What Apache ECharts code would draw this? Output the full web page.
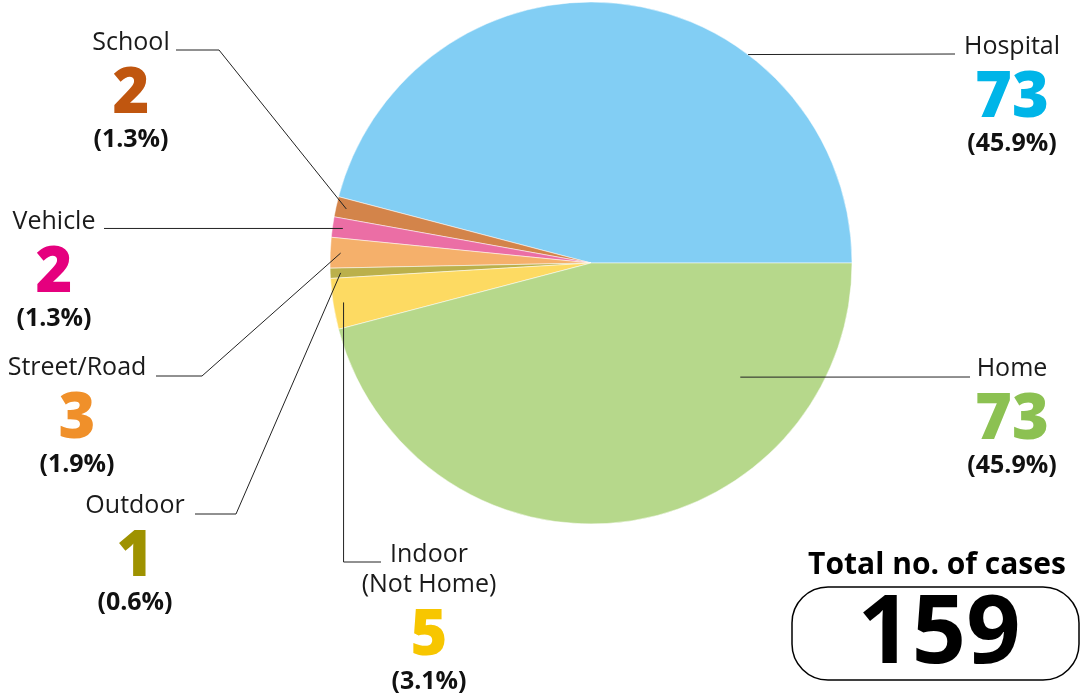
<!DOCTYPE html>
<html>
<head>
<meta charset="utf-8">
<script src="https://cdn.jsdelivr.net/npm/echarts@6/dist/echarts.min.js"></script>
<style>
  html, body { margin: 0; padding: 0; background: #fff; }
  #chart { width: 1081px; height: 696px; }
</style>
</head>
<body>
<div id="chart"></div>
<script>
// data
const places = ['Hospital', 'School', 'Vehicle', 'Street/Road', 'Outdoor', 'Indoor\n(Not Home)', 'Home']
const cases = [73, 2, 2, 3, 1, 5, 73]
const sliceColors = ['#82CEF4', '#D3844A', '#EB6EA5', '#F5B06B', '#BBB04B', '#FDDA62', '#B6D88B']
const numberColors = ['#00B5E8', '#C0560F', '#E5007E', '#F0902A', '#9E9200', '#F7C600', '#8CC152']
const totalLabel = 'Total no. of cases'

const total = cases.reduce((a, b) => a + b, 0)

// pie geometry
const cx = 591, cy = 263, R = 261
const START = 0

// where each label block sits, and how its leader line bends
// x/y = block centre / first text line centre, elbow & end of leader, optional start override
const spots = [
  { x: 1012, y: 47, elbow: [955, 54], end: [955, 54], ang: 53, frac: 1.0 },
  { x: 131, y: 43, elbow: [219, 50], end: [176, 50] },
  { x: 54, y: 222, elbow: [104, null], end: [104, null] },
  { x: 77, y: 368, elbow: [202, 376], end: [156, 376] },
  { x: 135, y: 506, elbow: [236, 514], end: [195, 514] },
  { x: 429, y: 555, elbow: [null, 562], end: [381, 562] },
  { x: 1012, y: 369, elbow: [970, 377], end: [970, 377], ang: -37.4, frac: 0.72 }
]

// mid angle of each slice (counter-clockwise from 3 o'clock)
const midAngles = []
let acc = 0
cases.forEach(v => {
  midAngles.push(START + (acc + v / 2) / total * 360)
  acc += v
})

const rich = {
  n: { fontFamily: 'Open Sans', fontSize: 25, color: '#1a1a1a', lineHeight: 30 },
  p: { fontFamily: 'Open Sans', fontSize: 25, fontWeight: 'bold', color: '#111', lineHeight: 16 }
}
numberColors.forEach((c, i) => {
  rich['v' + i] = { fontFamily: 'Open Sans', fontSize: 63, fontWeight: 800, color: c, lineHeight: 74 }
})

const pieData = places.map((name, i) => ({ name: name, value: cases[i] }))

const chart = echarts.init(document.getElementById('chart'))

chart.setOption({
  animation: false,
  series: [
    // the coloured slices
    {
      type: 'pie',
      center: [cx, cy],
      radius: R,
      startAngle: START,
      clockwise: false,
      z: 2,
      itemStyle: { borderColor: '#fff', borderWidth: 0.5 },
      emphasis: { disabled: true },
      label: { show: false },
      labelLine: { show: false },
      data: pieData.map((d, i) => ({ ...d, itemStyle: { color: sliceColors[i] } }))
    },
    // same data again, invisible slices, so labels and leaders sit on top
    {
      type: 'pie',
      center: [cx, cy],
      radius: R,
      startAngle: START,
      clockwise: false,
      z: 3,
      silent: true,
      avoidLabelOverlap: false,
      itemStyle: { color: 'rgba(0,0,0,0)', borderWidth: 0 },
      emphasis: { disabled: true },
      data: pieData,
      label: {
        show: true,
        position: 'outside',
        rich: rich,
        formatter: p => {
          const pct = (p.value / total * 100).toFixed(1)
          const nm = p.name.split('\n').map(s => '{n|' + s + '}').join('\n')
          return nm + '\n{v' + p.dataIndex + '|' + p.value + '}\n{p|(' + pct + '%)}'
        }
      },
      labelLine: {
        show: true,
        lineStyle: { color: '#222', width: 1 }
      },
      labelLayout: params => {
        const i = params.dataIndex
        const s = spots[i]
        const a = (s.ang !== undefined ? s.ang : midAngles[i]) * Math.PI / 180
        const r = R * (s.frac !== undefined ? s.frac : 0.96)
        const start = [cx + r * Math.cos(a), cy - r * Math.sin(a)]
        const fix = pt => [pt[0] === null ? start[0] : pt[0], pt[1] === null ? start[1] : pt[1]]
        return {
          x: s.x,
          y: s.y - 15,
          align: 'center',
          verticalAlign: 'top',
          labelLinePoints: [start, fix(s.elbow), fix(s.end)]
        }
      }
    }
  ],
  graphic: [
    {
      type: 'text',
      x: 937,
      y: 565,
      style: { text: totalLabel, fontFamily: 'Open Sans', fontSize: 30, fontWeight: 'bold', fill: '#000', align: 'center', verticalAlign: 'middle' }
    },
    {
      type: 'rect',
      shape: { x: 792, y: 587, width: 287, height: 93, r: 36 },
      style: { fill: 'none', stroke: '#000', lineWidth: 1.5 }
    },
    {
      type: 'text',
      x: 939,
      y: 636,
      style: { text: String(total), fontFamily: 'Open Sans', fontSize: 95, fontWeight: 'bold', fill: '#000', align: 'center', verticalAlign: 'middle' }
    }
  ]
})

window.addEventListener('resize', () => chart.resize())
</script>
</body>
</html>
